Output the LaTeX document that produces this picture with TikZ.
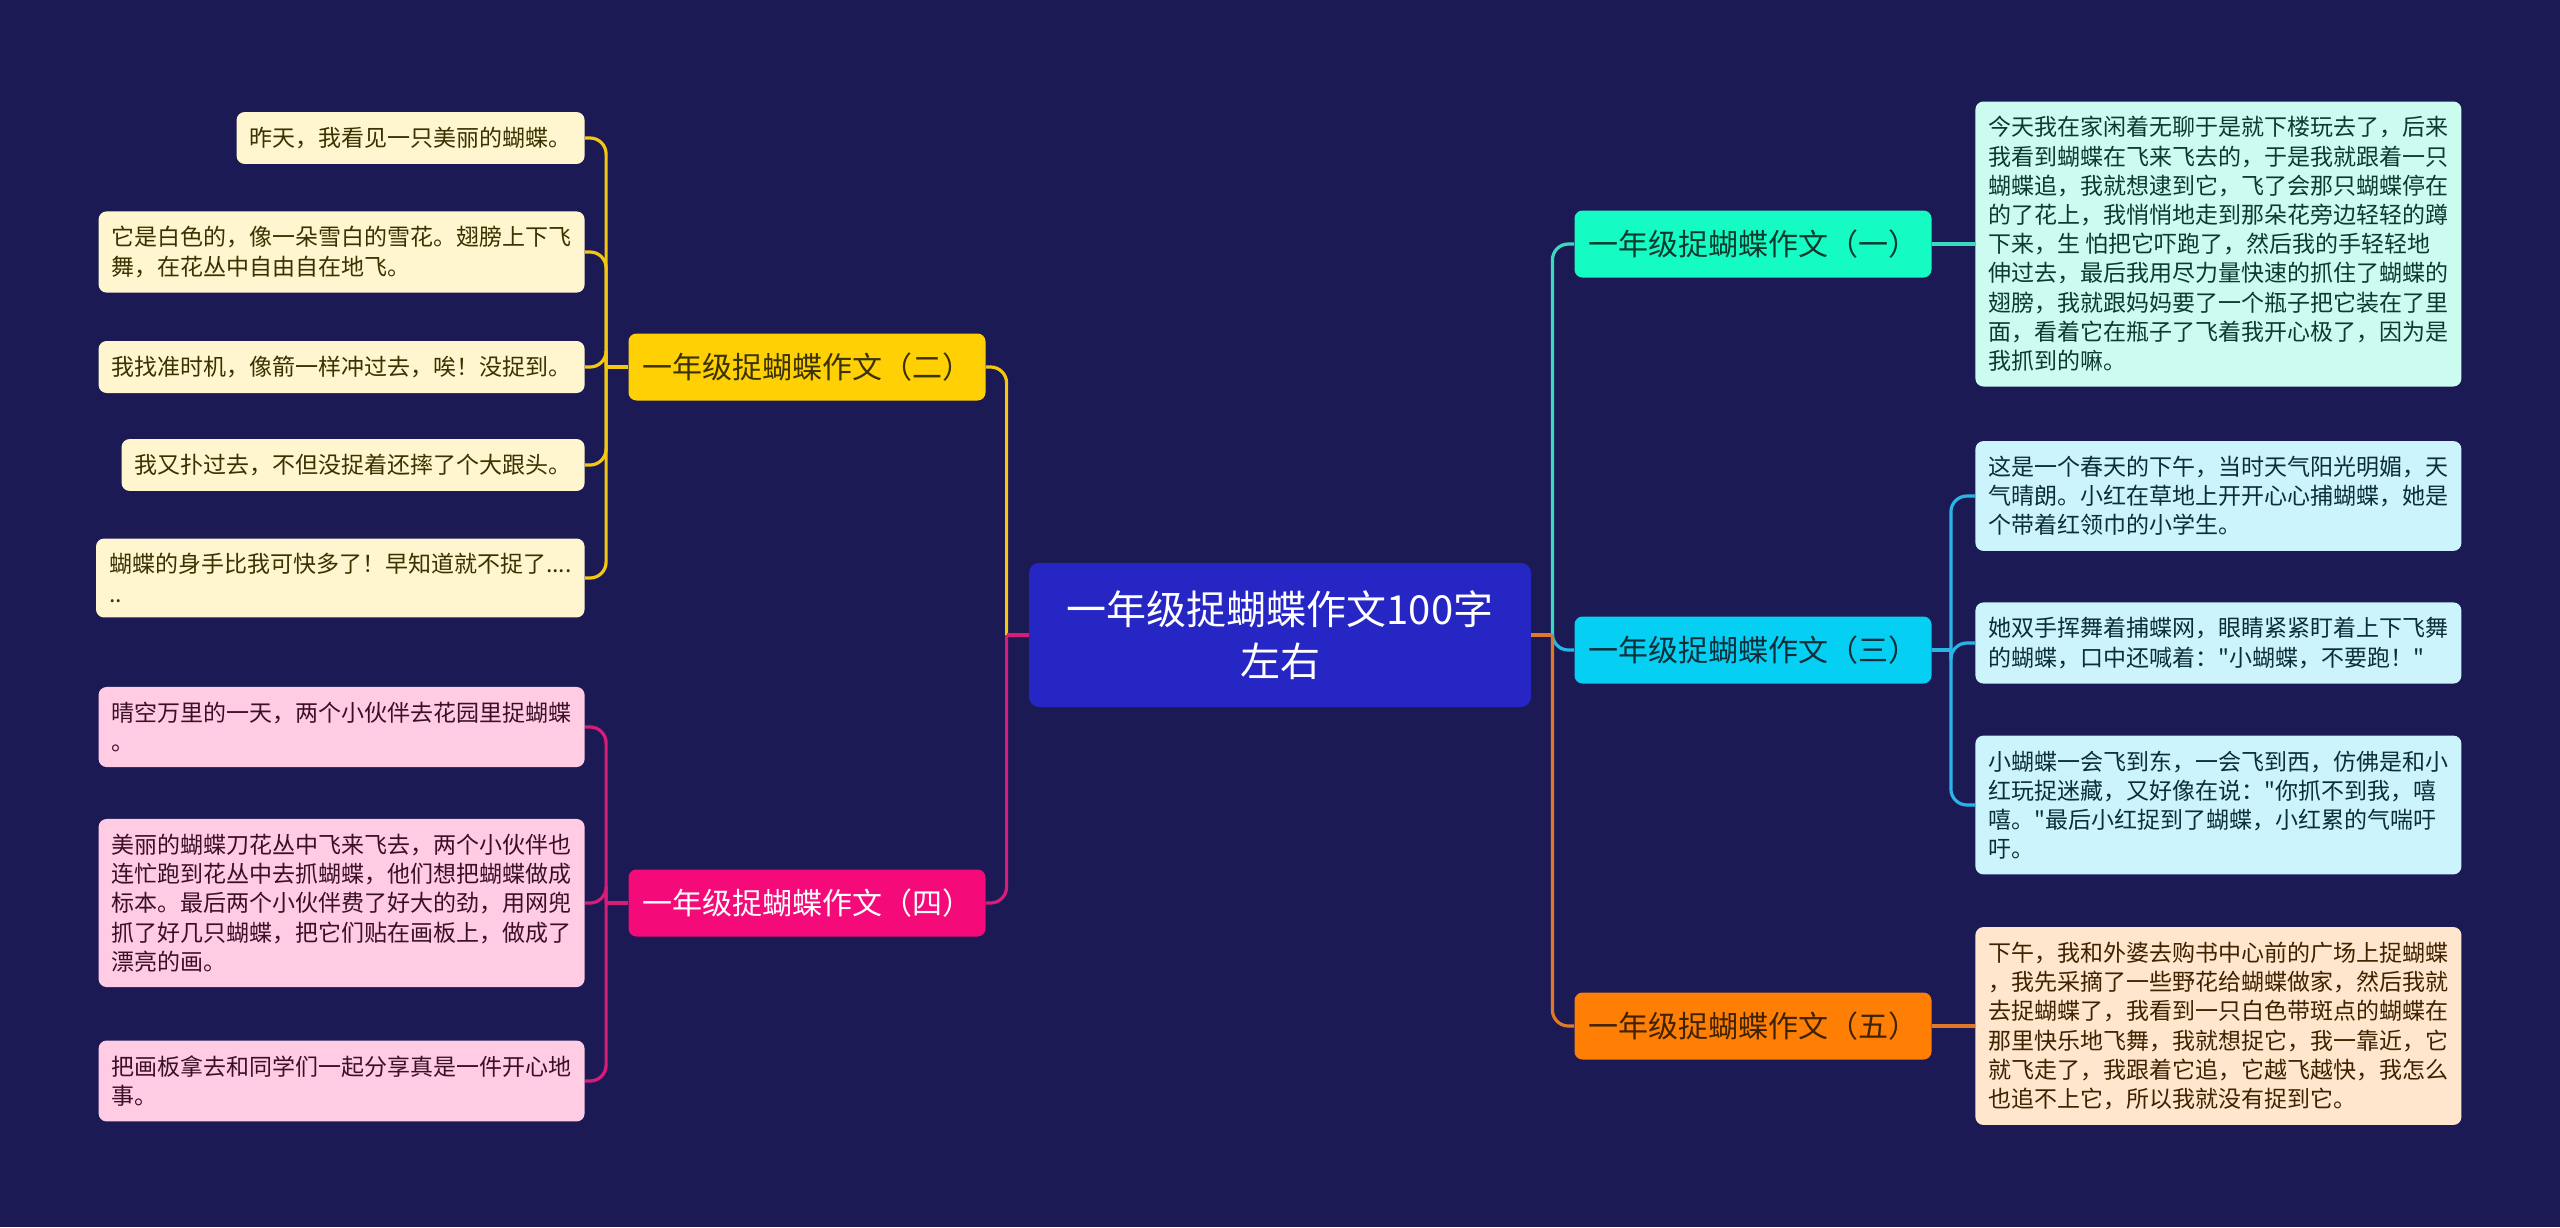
\documentclass[tikz,border=0pt]{standalone}
\usepackage{fontspec}
\setmainfont{Noto Sans CJK SC}
\newfontfamily\plaincjk{Noto Sans CJK SC}
\newcommand{\dq}{{\plaincjk\symbol{34}}}
\usepackage{tikz}
\usetikzlibrary{positioning,calc}

\definecolor{bgnavy}{HTML}{1B1A54}
\definecolor{rootblue}{HTML}{2626C4}
\definecolor{ylwtopic}{HTML}{FFD105}
\definecolor{ylwleaf}{HTML}{FFF6CF}
\definecolor{ylwline}{HTML}{F2C811}
\definecolor{ylwtext}{HTML}{3A3200}
\definecolor{pnktopic}{HTML}{F50A7A}
\definecolor{pnkleaf}{HTML}{FFCCE3}
\definecolor{pnkline}{HTML}{D91C7A}
\definecolor{pnktext}{HTML}{3A1028}
\definecolor{tealtopic}{HTML}{14FCC4}
\definecolor{tealleaf}{HTML}{CCFCF0}
\definecolor{tealline}{HTML}{3BD9BE}
\definecolor{tealtext}{HTML}{0C3A2E}
\definecolor{cyantopic}{HTML}{05CFF2}
\definecolor{cyanleaf}{HTML}{CCF4FC}
\definecolor{cyanline}{HTML}{29B6E6}
\definecolor{cyantext}{HTML}{0C2E3A}
\definecolor{orgtopic}{HTML}{FF7F05}
\definecolor{orgleaf}{HTML}{FFE6CC}
\definecolor{orgline}{HTML}{E0782A}
\definecolor{orgtext}{HTML}{3F2200}

\begin{document}
\begin{tikzpicture}[x=0.5pt,y=-0.5pt,
    link/.style={line width=1.6pt},
    curve/.style={line width=1.6pt,rounded corners=8pt},
    topic/.style={rounded corners=4pt,minimum width=178.5pt,minimum height=33.5pt,
      inner sep=0pt,font=\fontsize{15}{18}\selectfont},
    leafL/.style={rounded corners=4pt,anchor=east,align=left,inner xsep=6.5pt,
      inner ysep=7.5pt,font=\fontsize{11.5}{14.6}\selectfont},
    leafR/.style={leafL,anchor=west}]
    \fill[bgnavy] (0,0) rectangle (2560,1227);
    \useasboundingbox (0,0) rectangle (2560,1227);

    \node[fill=rootblue,text=white,rounded corners=5pt,minimum width=251pt,minimum height=72pt,
      align=center,font=\fontsize{20}{26}\selectfont] (root) at (1280,635) {一年级捉蝴蝶作文100字\\左右};

    \node[topic,fill=ylwtopic,text=ylwtext] (b2) at (807,367) {一年级捉蝴蝶作文（二）};
    \node[topic,fill=pnktopic,text=white] (b4) at (807,903) {一年级捉蝴蝶作文（四）};
    \node[topic,fill=tealtopic,text=tealtext] (b1) at (1753,244) {一年级捉蝴蝶作文（一）};
    \node[topic,fill=cyantopic,text=cyantext] (b3) at (1753,650) {一年级捉蝴蝶作文（三）};
    \node[topic,fill=orgtopic,text=orgtext] (b5) at (1753,1026) {一年级捉蝴蝶作文（五）};

    % left leaves
    \node[leafL,fill=ylwleaf,text=ylwtext] (y1) at (585,138) {昨天，我看见一只美丽的蝴蝶。};
    \node[leafL,fill=ylwleaf,text=ylwtext] (y2) at (585,252) {它是白色的，像一朵雪白的雪花。翅膀上下飞\\舞，在花丛中自由自在地飞。};
    \node[leafL,fill=ylwleaf,text=ylwtext] (y3) at (585,367) {我找准时机，像箭一样冲过去，唉！没捉到。};
    \node[leafL,fill=ylwleaf,text=ylwtext] (y4) at (585,465) {我又扑过去，不但没捉着还摔了个大跟头。};
    \node[leafL,fill=ylwleaf,text=ylwtext] (y5) at (585,578) {蝴蝶的身手比我可快多了！早知道就不捉了....\\..};
    \node[leafL,fill=pnkleaf,text=pnktext] (p1) at (585,727) {晴空万里的一天，两个小伙伴去花园里捉蝴蝶\\。};
    \node[leafL,fill=pnkleaf,text=pnktext] (p2) at (585,903) {美丽的蝴蝶刀花丛中飞来飞去，两个小伙伴也\\连忙跑到花丛中去抓蝴蝶，他们想把蝴蝶做成\\标本。最后两个小伙伴费了好大的劲，用网兜\\抓了好几只蝴蝶，把它们贴在画板上，做成了\\漂亮的画。};
    \node[leafL,fill=pnkleaf,text=pnktext] (p3) at (585,1081) {把画板拿去和同学们一起分享真是一件开心地\\事。};

    % right leaves
    \node[leafR,fill=tealleaf,text=tealtext] (t1) at (1975,244) {今天我在家闲着无聊于是就下楼玩去了，后来\\我看到蝴蝶在飞来飞去的，于是我就跟着一只\\蝴蝶追，我就想逮到它，飞了会那只蝴蝶停在\\的了花上，我悄悄地走到那朵花旁边轻轻的蹲\\下来，生 怕把它吓跑了，然后我的手轻轻地\\伸过去，最后我用尽力量快速的抓住了蝴蝶的\\翅膀，我就跟妈妈要了一个瓶子把它装在了里\\面，看着它在瓶子了飞着我开心极了，因为是\\我抓到的嘛。};
    \node[leafR,fill=cyanleaf,text=cyantext] (c1) at (1975,496) {这是一个春天的下午，当时天气阳光明媚，天\\气晴朗。小红在草地上开开心心捕蝴蝶，她是\\个带着红领巾的小学生。};
    \node[leafR,fill=cyanleaf,text=cyantext] (c2) at (1975,643) {她双手挥舞着捕蝶网，眼睛紧紧盯着上下飞舞\\的蝴蝶，口中还喊着：\dq 小蝴蝶，不要跑！\dq};
    \node[leafR,fill=cyanleaf,text=cyantext] (c3) at (1975,805) {小蝴蝶一会飞到东，一会飞到西，仿佛是和小\\红玩捉迷藏，又好像在说：\dq 你抓不到我，嘻\\嘻。\dq 最后小红捉到了蝴蝶，小红累的气喘吁\\吁。};
    \node[leafR,fill=orgleaf,text=orgtext] (o1) at (1975,1026) {下午，我和外婆去购书中心前的广场上捉蝴蝶\\，我先采摘了一些野花给蝴蝶做家，然后我就\\去捉蝴蝶了，我看到一只白色带斑点的蝴蝶在\\那里快乐地飞舞，我就想捉它，我一靠近，它\\就飞走了，我跟着它追，它越飞越快，我怎么\\也追不上它，所以我就没有捉到它。};

    % trunks
    \coordinate (tl) at ($(root.west)+(-22,0)$);
    \coordinate (tr) at ($(root.east)+(21,0)$);
    \draw[curve,ylwline] (tl) |- (b2.east);
    \draw[link,pnkline] (root.west) -- (tl);
    \draw[curve,pnkline] (tl) |- (b4.east);
    \draw[curve,tealline] (tr) |- (b1.west);
    \draw[curve,cyanline] (tr) |- (b3.west);
    \draw[link,orgline] (root.east) -- (tr);
    \draw[curve,orgline] (tr) |- (b5.west);

    % buses
    \coordinate (busy) at ($(b2.west)+(-22,0)$);
    \coordinate (busp) at ($(b4.west)+(-22,0)$);
    \coordinate (busc) at ($(b3.east)+(19,0)$);
    \draw[link,ylwline] (b2.west) -- (busy);
    \foreach \n in {y1,y2,y3,y4,y5}
      \draw[curve,ylwline] (busy) |- (\n.east);
    \draw[link,pnkline] (b4.west) -- (busp);
    \foreach \n in {p1,p2,p3}
      \draw[curve,pnkline] (busp) |- (\n.east);
    \draw[link,cyanline] (b3.east) -- (busc);
    \foreach \n in {c1,c2,c3}
      \draw[curve,cyanline] (busc) |- (\n.west);
    \draw[link,tealline] (b1.east) -- (t1.west);
    \draw[link,orgline] (b5.east) -- (o1.west);
\end{tikzpicture}
\end{document}
